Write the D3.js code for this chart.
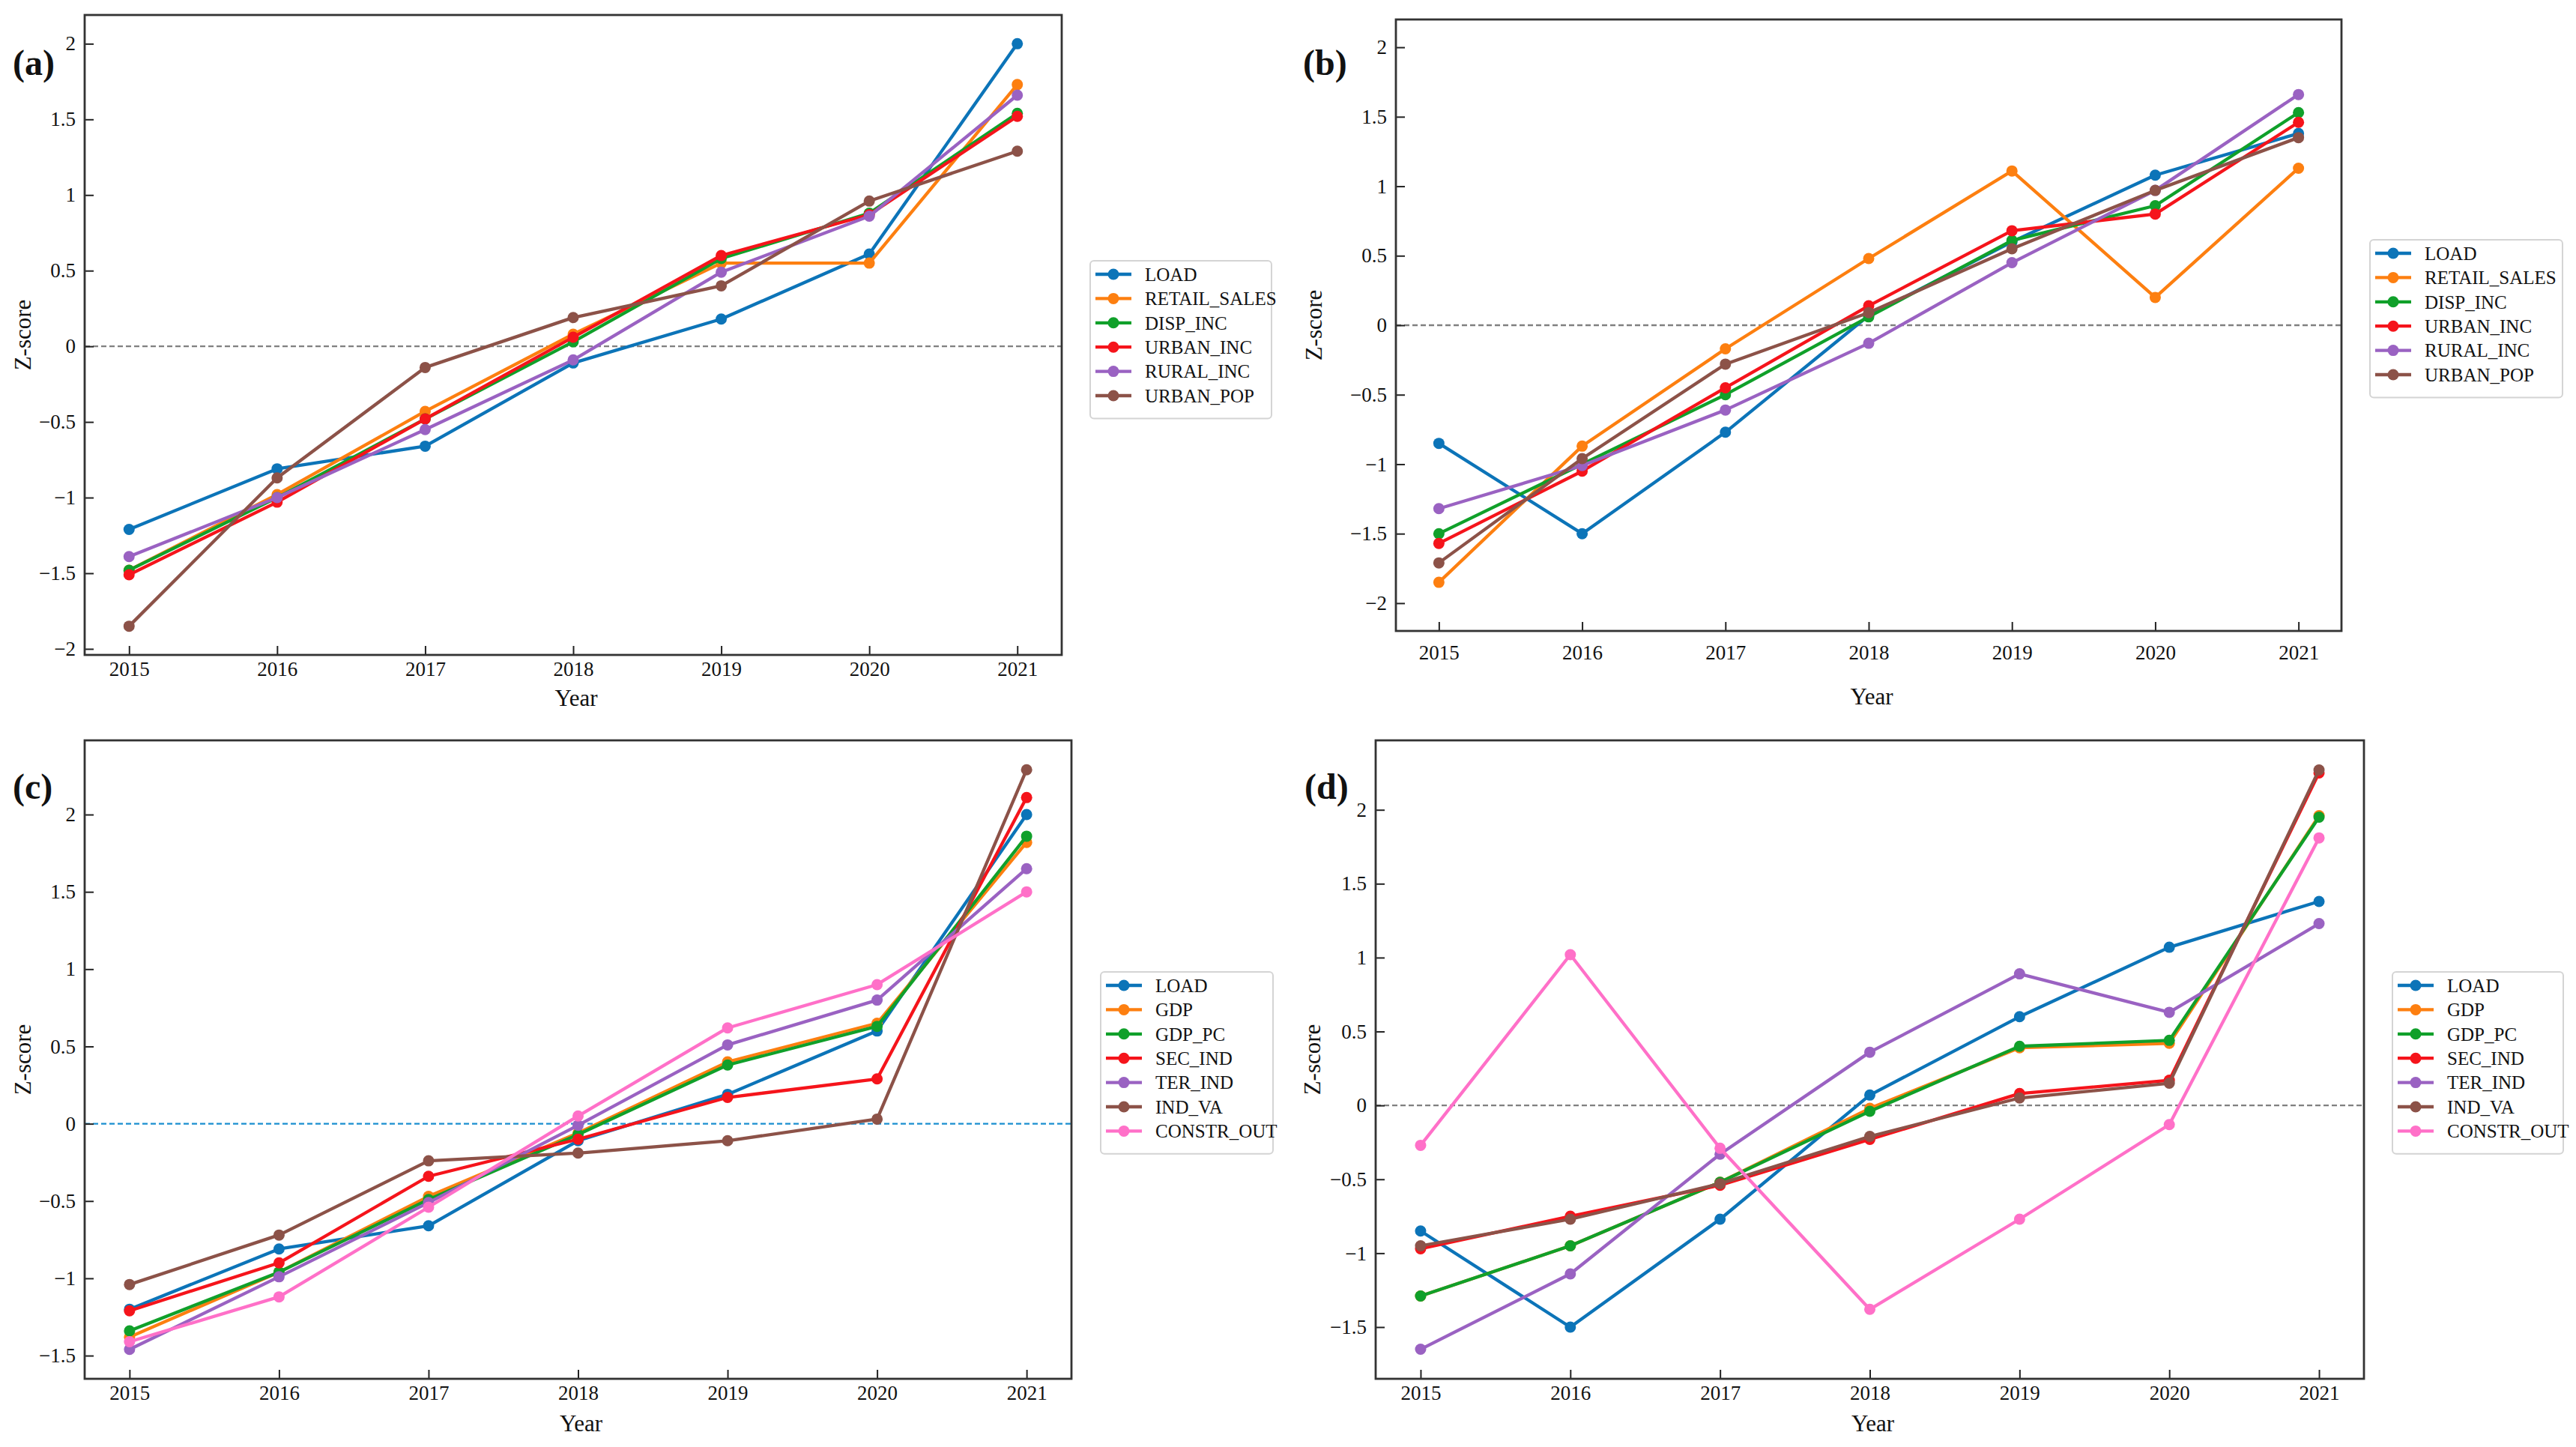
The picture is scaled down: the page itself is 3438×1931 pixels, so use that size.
<!DOCTYPE html>
<html>
<head>
<meta charset="utf-8">
<script src="https://cdn.jsdelivr.net/npm/d3@7"></script>
<style>
  body { margin: 0; background: #fff; }
  text { font-family: "Liberation Serif", "Times New Roman", Times, serif; fill: #111; }
</style>
</head>
<body>
<div id="chart"></div>
<script>
// years on the x axis
var years = [2015, 2016, 2017, 2018, 2019, 2020, 2021]

// series names
var namesAB = ["LOAD", "RETAIL_SALES", "DISP_INC", "URBAN_INC", "RURAL_INC", "URBAN_POP"]
var namesCD = ["LOAD", "GDP", "GDP_PC", "SEC_IND", "TER_IND", "IND_VA", "CONSTR_OUT"]

// (a) z-scores, one row per series
var loadA        = [-1.21, -0.81, -0.66, -0.11, 0.18, 0.61, 2.00]
var retailA      = [-1.48, -0.98, -0.43, 0.08, 0.55, 0.55, 1.73]
var dispIncA     = [-1.48, -1.00, -0.48, 0.03, 0.58, 0.88, 1.54]
var urbanIncA    = [-1.51, -1.03, -0.48, 0.06, 0.60, 0.87, 1.52]
var ruralIncA    = [-1.39, -1.00, -0.55, -0.09, 0.49, 0.86, 1.66]
var urbanPopA    = [-1.85, -0.87, -0.14, 0.19, 0.40, 0.96, 1.29]

// (b)
var loadB        = [-0.85, -1.50, -0.77, 0.07, 0.60, 1.08, 1.38]
var retailB      = [-1.85, -0.87, -0.17, 0.48, 1.11, 0.20, 1.13]
var dispIncB     = [-1.50, -1.00, -0.50, 0.06, 0.61, 0.86, 1.53]
var urbanIncB    = [-1.57, -1.05, -0.45, 0.14, 0.68, 0.80, 1.46]
var ruralIncB    = [-1.32, -1.01, -0.61, -0.13, 0.45, 0.97, 1.66]
var urbanPopB    = [-1.71, -0.96, -0.28, 0.09, 0.55, 0.97, 1.35]

// (c)
var loadC        = [-1.20, -0.81, -0.66, -0.11, 0.19, 0.60, 2.00]
var gdpC         = [-1.38, -0.96, -0.47, -0.06, 0.40, 0.65, 1.82]
var gdpPcC       = [-1.34, -0.96, -0.49, -0.07, 0.38, 0.63, 1.86]
var secIndC      = [-1.21, -0.90, -0.34, -0.10, 0.17, 0.29, 2.11]
var terIndC      = [-1.46, -0.99, -0.51, -0.01, 0.51, 0.80, 1.65]
var indVaC       = [-1.04, -0.72, -0.24, -0.19, -0.11, 0.03, 2.29]
var constrC      = [-1.41, -1.12, -0.54, 0.05, 0.62, 0.90, 1.50]

// (d)
var loadD        = [-0.85, -1.50, -0.77, 0.07, 0.60, 1.07, 1.38]
var gdpD         = [-1.29, -0.95, -0.52, -0.02, 0.39, 0.42, 1.96]
var gdpPcD       = [-1.29, -0.95, -0.52, -0.04, 0.40, 0.44, 1.95]
var secIndD      = [-0.97, -0.75, -0.54, -0.23, 0.08, 0.17, 2.25]
var terIndD      = [-1.65, -1.14, -0.33, 0.36, 0.89, 0.63, 1.23]
var indVaD       = [-0.95, -0.77, -0.53, -0.21, 0.05, 0.15, 2.27]
var constrD      = [-0.27, 1.02, -0.29, -1.38, -0.77, -0.13, 1.81]

// tick values
var yTicksAB = [-2, -1.5, -1, -0.5, 0, 0.5, 1, 1.5, 2]
var yTicksC  = [-1.5, -1, -0.5, 0, 0.5, 1, 1.5, 2]
var yTicksD  = [-1.5, -1, -0.5, 0, 0.5, 1, 1.5, 2]

var colors = ["#0c74b8", "#fd7f10", "#10a02a", "#f5141b", "#9a62c2", "#8c5248", "#ff70c8"]

var W = 3438, H = 1931

var svg = d3.select("#chart").append("svg")
  .attr("width", W)
  .attr("height", H)

svg.append("rect").attr("width", W).attr("height", H).attr("fill", "#fff")

// layout of the four panels
// box: [left, top, right, bottom], tag/ylab/year: text anchors
var panels = [
  {tag: "(a)", names: namesAB, rows: [loadA, retailA, dispIncA, urbanIncA, ruralIncA, urbanPopA],
   yDom: [-2.04, 2.19], ticks: yTicksAB, box: [113, 20, 1417, 874], zeroColor: "#808080",
   legend: [1455, 348, 242], tagXY: [17, 100], ylabX: 41, yearY: 942, xPad: 9},
  {tag: "(b)", names: namesAB, rows: [loadB, retailB, dispIncB, urbanIncB, ruralIncB, urbanPopB],
   yDom: [-2.2, 2.2], ticks: yTicksAB, box: [1863, 26, 3125, 842], zeroColor: "#808080",
   legend: [3163, 320, 257], tagXY: [1739, 100], ylabX: 1764, yearY: 940, xPad: 19},
  {tag: "(c)", names: namesCD, rows: [loadC, gdpC, gdpPcC, secIndC, terIndC, indVaC, constrC],
   yDom: [-1.65, 2.48], ticks: yTicksC, box: [113, 988, 1430, 1840], zeroColor: "#1a8fd0",
   legend: [1469, 1297, 230], tagXY: [17, 1066], ylabX: 41, yearY: 1910, xPad: 9},
  {tag: "(d)", names: namesCD, rows: [loadD, gdpD, gdpPcD, secIndD, terIndD, indVaD, constrD],
   yDom: [-1.85, 2.47], ticks: yTicksD, box: [1836, 988, 3155, 1840], zeroColor: "#808080",
   legend: [3193, 1297, 228], tagXY: [1741, 1066], ylabX: 1762, yearY: 1910, xPad: 9}
]

function fmt(v) {
  var s = String(v)
  return s.replace("-", "\u2212")
}

panels.forEach(function(p) {
  var x0 = p.box[0], y0 = p.box[1], x1 = p.box[2], y1 = p.box[3]

  var x = d3.scaleLinear().domain([2014.7, 2021.3]).range([x0, x1])
  var y = d3.scaleLinear().domain(p.yDom).range([y1, y0])

  var g = svg.append("g")

  // zero reference line
  g.append("line")
    .attr("x1", x0).attr("x2", x1)
    .attr("y1", y(0)).attr("y2", y(0))
    .attr("stroke", p.zeroColor)
    .attr("stroke-width", 2.4)
    .attr("stroke-dasharray", "7,4")

  var line = d3.line()
    .x(function(d, i) { return x(years[i]) })
    .y(function(d) { return y(d) })

  p.rows.forEach(function(row, k) {
    g.append("path")
      .attr("d", line(row))
      .attr("fill", "none")
      .attr("stroke", colors[k])
      .attr("stroke-width", 4.3)
      .attr("stroke-linejoin", "round")

    g.selectAll(null).data(row).enter().append("circle")
      .attr("cx", function(d, i) { return x(years[i]) })
      .attr("cy", function(d) { return y(d) })
      .attr("r", 7.5)
      .attr("fill", colors[k])
  })

  // axes, ticks pointing inward
  var xAxis = d3.axisBottom(x).tickValues(years).tickFormat(d3.format("d"))
    .tickSizeInner(-12).tickSizeOuter(0).tickPadding(p.xPad)
  var yAxis = d3.axisLeft(y).tickValues(p.ticks).tickFormat(fmt)
    .tickSizeInner(-12).tickSizeOuter(0).tickPadding(12)

  var gx = g.append("g").attr("transform", "translate(0," + y1 + ")").call(xAxis)
  var gy = g.append("g").attr("transform", "translate(" + x0 + ",0)").call(yAxis)

  ;[gx, gy].forEach(function(a) {
    a.attr("font-family", null)
    a.select(".domain").remove()
    a.selectAll(".tick line").attr("stroke", "#222").attr("stroke-width", 2)
    a.selectAll(".tick text").attr("font-size", 27).attr("fill", "#111")
  })

  // frame
  g.append("rect")
    .attr("x", x0).attr("y", y0)
    .attr("width", x1 - x0).attr("height", y1 - y0)
    .attr("fill", "none")
    .attr("stroke", "#333")
    .attr("stroke-width", 2.8)

  // titles
  g.append("text")
    .attr("x", (x0 + x1) / 2 + 4)
    .attr("y", p.yearY)
    .attr("text-anchor", "middle")
    .attr("font-size", 31)
    .text("Year")

  g.append("text")
    .attr("transform", "translate(" + p.ylabX + "," + ((y0 + y1) / 2) + ") rotate(-90)")
    .attr("text-anchor", "middle")
    .attr("font-size", 31)
    .text("Z-score")

  g.append("text")
    .attr("x", p.tagXY[0])
    .attr("y", p.tagXY[1])
    .attr("font-size", 48)
    .attr("font-weight", "bold")
    .text(p.tag)

  // legend
  var lx = p.legend[0], ly = p.legend[1], lw = p.legend[2]
  var step = 32.4
  var lh = p.names.length * step + 16

  g.append("rect")
    .attr("x", lx).attr("y", ly)
    .attr("width", lw).attr("height", lh)
    .attr("rx", 5)
    .attr("fill", "#fff")
    .attr("stroke", "#d4d4d4")
    .attr("stroke-width", 2)

  var items = g.selectAll(null).data(p.names).enter().append("g")
    .attr("transform", function(d, i) { return "translate(" + lx + "," + (ly + 18 + i * step) + ")" })

  items.append("line")
    .attr("x1", 7).attr("x2", 55)
    .attr("stroke", function(d, i) { return colors[i] })
    .attr("stroke-width", 4.3)

  items.append("circle")
    .attr("cx", 31).attr("r", 7.5)
    .attr("fill", function(d, i) { return colors[i] })

  items.append("text")
    .attr("x", 73)
    .attr("dy", "0.35em")
    .attr("font-size", 25)
    .text(function(d) { return d })
})
</script>
</body>
</html>
